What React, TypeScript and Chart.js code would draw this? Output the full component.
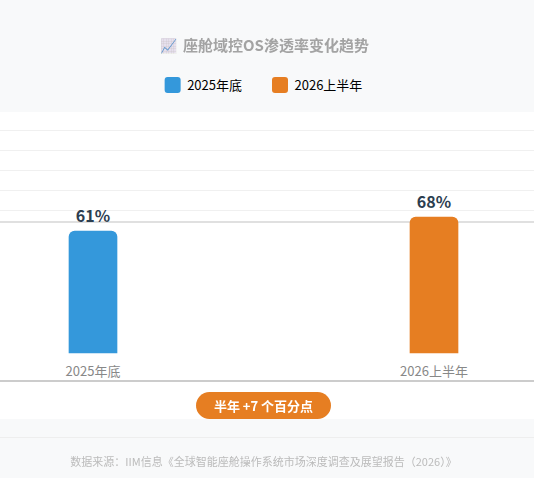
import React, { useEffect, useRef } from 'react';
import { Chart, registerables } from 'chart.js';

Chart.register(...registerables);

const FONT = '"Noto Sans CJK SC", "Noto Sans", sans-serif';

const categories = ['2025年底', '2026上半年'];
const values = [61, 68];
const barColors = ['#3498db', '#e67e22'];
// percent lines behind the bars
const gridValues = [65.5, 71.5, 81.5, 91.5, 101.5, 111.5];

// opaque page bands, so canvas text gets the same antialiasing as page text
const pageBands = {
    id: 'pageBands',
    beforeDraw(chart: any) {
        const { ctx, width, height } = chart;
        ctx.save();
        ctx.fillStyle = '#f8f9fa';
        ctx.fillRect(0, 0, width, height);
        ctx.fillStyle = '#ffffff';
        ctx.fillRect(0, 112, width, 307);
        ctx.restore();
    }
};

const valueLabels = {
    id: 'valueLabels',
    afterDatasetsDraw(chart: any) {
        const { ctx } = chart;
        const bars = chart.getDatasetMeta(0).data;
        ctx.save();
        ctx.font = `bold 16px ${FONT}`;
        ctx.fillStyle = '#2c3e50';
        ctx.textAlign = 'center';
        ctx.textBaseline = 'bottom';
        bars.forEach((bar: any, i: number) => {
            ctx.fillText(values[i] + '%', bar.x, bar.y - 7);
        });
        ctx.restore();
    }
};

// the page content sits a little left of centre
const legendShift = {
    id: 'legendShift',
    afterLayout(chart: any) {
        chart.legend.right -= 7;
    }
};

const App = () => {
    const chartRef = useRef<HTMLCanvasElement>(null);

    useEffect(() => {
        document.body.style.margin = '0';
        if (!chartRef.current) return;
        const ctx = chartRef.current.getContext('2d', { alpha: false });
        if (!ctx) return;

        const chart = new Chart(ctx, {
            type: 'bar',
            data: {
                datasets: [{
                    data: values.map((v, i) => ({ x: i, y: v })),
                    backgroundColor: barColors,
                    barThickness: 48,
                    borderRadius: { topLeft: 6, topRight: 6, bottomLeft: 0, bottomRight: 0 },
                    borderSkipped: false
                }]
            } as any,
            options: {
                responsive: false,
                animation: false,
                layout: { padding: { top: 47 } },
                scales: {
                    x: {
                        type: 'linear',
                        offset: false,
                        min: -93 / 341,
                        max: 441 / 341,
                        afterBuildTicks: (scale: any) => {
                            scale.ticks = categories.map((_, i) => ({ value: i }));
                        },
                        afterFit: (scale: any) => {
                            scale.height = 97;
                        },
                        grid: { display: false, drawTicks: false },
                        border: { color: '#cccccc', width: 2 },
                        ticks: {
                            mirror: true,
                            padding: 2,
                            autoSkip: false,
                            maxRotation: 0,
                            color: '#888888',
                            font: { size: 13, family: FONT },
                            callback: (v: any) => categories[v]
                        }
                    },
                    y: {
                        min: -14,
                        max: 125,
                        afterBuildTicks: (scale: any) => {
                            scale.ticks = gridValues.map(v => ({ value: v }));
                        },
                        afterFit: (scale: any) => {
                            scale.width = 0;
                        },
                        ticks: { display: false },
                        border: { display: false },
                        grid: {
                            drawTicks: false,
                            color: (c: any) => (c.tick.value === gridValues[0] ? '#e0e0e0' : '#f0f0f0'),
                            lineWidth: (c: any) => (c.tick.value === gridValues[0] ? 2 : 1)
                        }
                    }
                },
                plugins: {
                    tooltip: { enabled: false },
                    title: { display: false },
                    legend: {
                        display: true,
                        onClick: () => {},
                        labels: {
                            boxWidth: 16,
                            boxHeight: 16,
                            padding: 30,
                            color: '#000000',
                            useBorderRadius: true,
                            borderRadius: 3,
                            font: { size: 13, family: FONT },
                            generateLabels: () => categories.map((c, i) => ({
                                text: c,
                                fillStyle: barColors[i],
                                strokeStyle: barColors[i],
                                lineWidth: 0,
                                borderRadius: 3,
                                index: i
                            }))
                        }
                    }
                }
            } as any,
            plugins: [pageBands, valueLabels, legendShift]
        });

        return () => {
            chart.destroy();
        };
    }, []);

    return (
        <div style={{ position: 'relative', width: 534, height: 478, background: '#ffffff', overflow: 'hidden', fontFamily: FONT }}>
            <canvas ref={chartRef} width={534} height={478} style={{ position: 'absolute', left: 0, top: 0, width: 534, height: 478 }}></canvas>
            <div style={{ position: 'absolute', left: 0, top: 437, width: 534, height: 1, background: '#eeeeee' }} />
            <div style={{ position: 'absolute', left: 161, top: 38, width: 15, height: 15, background: '#e6e0ee', borderRadius: 1 }} />
            <div style={{ position: 'absolute', left: 159, top: 35, width: 18, lineHeight: '20px', fontSize: 14, textAlign: 'center', filter: 'hue-rotate(210deg)', mixBlendMode: 'multiply', opacity: 0.6 }}>📈</div>
            <div style={{ position: 'absolute', left: 183, top: 35, whiteSpace: 'nowrap', fontSize: 15, fontWeight: 700, lineHeight: '20px', color: '#a3a3a3' }}>
                座舱域控OS渗透率变化趋势
            </div>
            <div style={{ position: 'absolute', left: 196, top: 392, width: 135, height: 27, borderRadius: 14, background: '#e67e22', color: '#ffffff', fontSize: 13, fontWeight: 700, lineHeight: '27px', textAlign: 'center' }}>
                半年 +7 个百分点
            </div>
            <div style={{ position: 'absolute', left: 0, top: 453, width: 527, textAlign: 'center', fontSize: 11, lineHeight: '16px', color: '#bbbbbb' }}>
                数据来源：IIM信息《全球智能座舱操作系统市场深度调查及展望报告（2026）》
            </div>
        </div>
    );
};

export default App;
